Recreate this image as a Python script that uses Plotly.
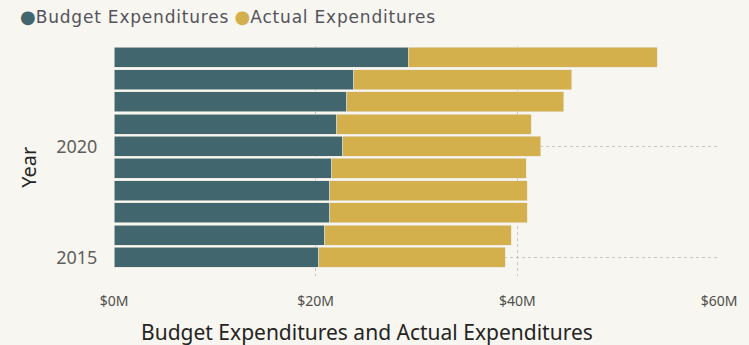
import plotly.graph_objects as go

years = [2015, 2016, 2017, 2018, 2019, 2020, 2021, 2022, 2023, 2024]
budget = [20.3, 20.9, 21.4, 21.4, 21.6, 22.7, 22.1, 23.1, 23.8, 29.2]
actual = [18.5, 18.5, 19.6, 19.6, 19.3, 19.6, 19.3, 21.5, 21.6, 24.7]
x_ticks = [0, 20, 40, 60]
x_tick_labels = ["$0M", "$20M", "$40M", "$60M"]
y_ticks = [2015, 2020]

BG = "#F7F6F1"
TEAL = "#41666E"
GOLD = "#D4B04D"
FONT = "Segoe UI, Noto Sans, DejaVu Sans, sans-serif"
LFONT = "DejaVu Sans, Verdana, sans-serif"

fig = go.Figure()
fig.add_trace(go.Bar(y=years, x=budget, orientation="h", name="Budget Expenditures",
                     marker=dict(color=TEAL, line=dict(color="#E6E4DC", width=0.6)),
                     showlegend=False))
fig.add_trace(go.Bar(y=years, x=actual, orientation="h", name="Actual Expenditures",
                     marker=dict(color=GOLD, line=dict(color="#E6E4DC", width=0.6)),
                     showlegend=False))

sp = "letter-spacing:0.8px"
legend_text = (f"<span style='color:{TEAL};font-size:18px'>●</span>"
               f"<span style='{sp}'>Budget Expenditures</span> "
               f"<span style='color:{GOLD};font-size:18px'>●</span>"
               f"<span style='{sp}'>Actual Expenditures</span>")

fig.update_layout(
    width=749, height=345,
    barmode="stack", bargap=0.1,
    paper_bgcolor=BG, plot_bgcolor=BG,
    margin=dict(l=114, r=24, t=46, b=69),
    font=dict(family=FONT, color="#605E5C"),
    xaxis=dict(range=[0, 60], tickvals=x_ticks, ticktext=x_tick_labels,
               showgrid=True, gridcolor="#C8C6C4", griddash="dot", gridwidth=1,
               zeroline=False, ticks="outside", ticklen=12, tickcolor="rgba(0,0,0,0)",
               tickfont=dict(size=14, color="#504E4C")),
    yaxis=dict(range=[2014.16, 2024.51], tickvals=y_ticks,
               showgrid=True, gridcolor="#C8C6C4", griddash="dot", gridwidth=1,
               zeroline=False, ticks="outside", ticklen=12, tickcolor="rgba(0,0,0,0)",
               tickfont=dict(size=18, color="#605E5C")),
    annotations=[
        dict(text=legend_text,
             xref="paper", yref="paper", x=(17 - 114) / 611, y=1 + (46 - 16) / 230,
             xanchor="left", yanchor="middle", showarrow=False,
             font=dict(size=17, color="#55535A", family=LFONT)),
        dict(text="Budget Expenditures and Actual Expenditures",
             xref="paper", yref="paper", x=(370 - 114) / 611, y=-(332 - 276) / 230,
             xanchor="center", yanchor="middle", showarrow=False,
             font=dict(size=21, color="#252423", family=FONT)),
        dict(text="Year", textangle=-90,
             xref="paper", yref="paper", x=-(114 - 27) / 611, y=(276 - 167) / 230,
             xanchor="center", yanchor="middle", showarrow=False,
             font=dict(size=20, color="#252423", family=FONT)),
    ],
)

fig.write_html("out.html")
